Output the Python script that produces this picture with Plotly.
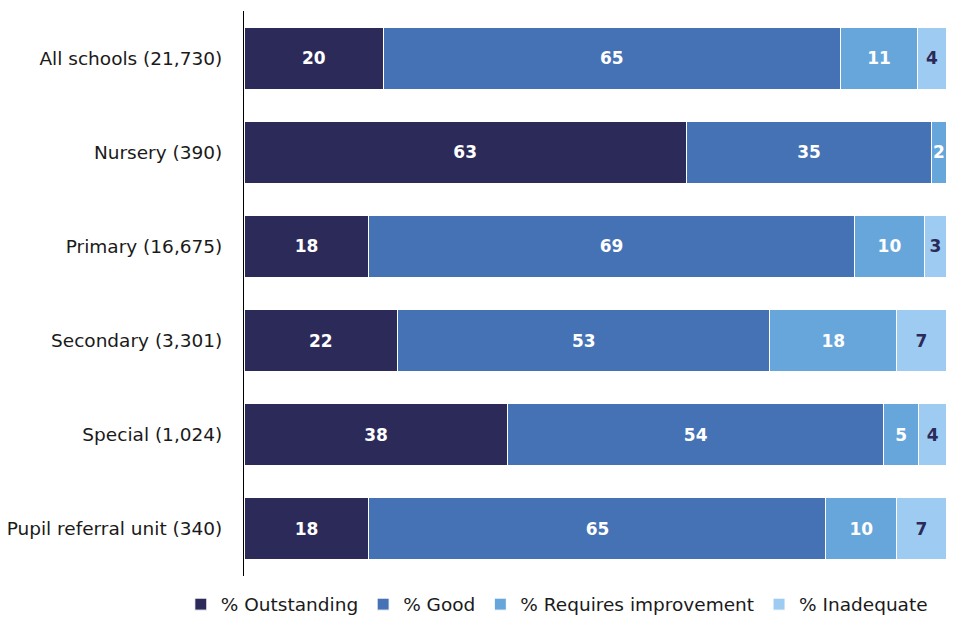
import plotly.graph_objects as go

categories = ["All schools (21,730)", "Nursery (390)", "Primary (16,675)",
              "Secondary (3,301)", "Special (1,024)", "Pupil referral unit (340)"]
outstanding = [19.9, 63.0, 17.8, 21.9, 37.6, 17.8]
good = [65.0, 35.0, 69.1, 53.0, 53.5, 65.1]
requires_improvement = [11.1, 2.0, 10.1, 18.1, 5.0, 10.1]
inadequate = [4.0, None, 3.0, 7.0, 4.0, 7.0]

series = [
    ("% Outstanding", outstanding, "#2C2A59", "white"),
    ("% Good", good, "#4472B4", "white"),
    ("% Requires improvement", requires_improvement, "#67A6DB", "white"),
    ("% Inadequate", inadequate, "#9DCBF1", "#2C2A59"),
]

fig = go.Figure()
for name, vals, color, tcolor in series:
    fig.add_trace(go.Bar(
        y=categories, x=vals, name=name, orientation="h",
        marker=dict(color=color, line=dict(color="white", width=1)),
        text=[("" if v is None else f"{v:.0f}") for v in vals],
        textposition="inside", insidetextanchor="middle", textangle=0,
        textfont=dict(color=tcolor, size=17, family="DejaVu Sans", weight="bold"),
        hoverinfo="skip",
    ))

fig.update_layout(
    barmode="stack", bargap=0.34,
    width=960, height=640,
    margin=dict(l=236, r=22, t=3, b=72, autoexpand=False),
    paper_bgcolor="white", plot_bgcolor="white",
    font=dict(family="DejaVu Sans", size=18.5, color="#1a1a1a"),
    uniformtext=dict(minsize=17, mode="show"),
    showlegend=True,
    legend=dict(orientation="h", x=-0.09, xanchor="left",
                y=-0.017, yanchor="top",
                font=dict(size=18.5), traceorder="normal", itemwidth=30),
    xaxis=dict(range=[0, 100], visible=False, showgrid=False, fixedrange=True),
    yaxis=dict(autorange="reversed", showline=True, linecolor="black", linewidth=1,
               ticks="", showgrid=False, ticklabelstandoff=17, automargin=False),
)

fig.write_html("out.html")
